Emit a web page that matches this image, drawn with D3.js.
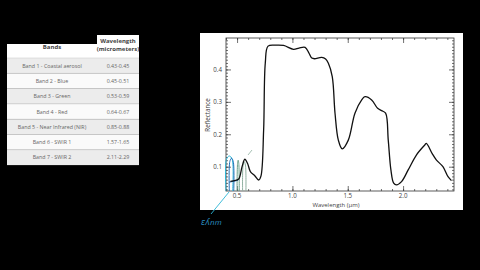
<!DOCTYPE html>
<html>
<head>
<meta charset="utf-8">
<script src="https://cdn.jsdelivr.net/npm/d3@7"></script>
<style>
  body { margin: 0; background: #000; }
  svg { display: block; font-family: "Open Sans", "DejaVu Sans", sans-serif; }
</style>
</head>
<body>
<svg id="chart" width="480" height="270"></svg>
<script>
// table data
const bandNames = ["Band 1 - Coastal aerosol", "Band 2 - Blue", "Band 3 - Green", "Band 4 - Red",
  "Band 5 - Near Infrared (NIR)", "Band 6 - SWIR 1", "Band 7 - SWIR 2"];
const bandRanges = ["0.43-0.45", "0.45-0.51", "0.53-0.59", "0.64-0.67", "0.85-0.88", "1.57-1.65", "2.11-2.29"];

// spectrum
const wavelength = [0.44, 0.485, 0.515, 0.545, 0.57, 0.595, 0.62, 0.66, 0.695, 0.715, 0.74, 0.755, 0.78, 0.85, 0.92,
  1.01, 1.06, 1.115, 1.15, 1.175, 1.2, 1.265, 1.3, 1.325, 1.36, 1.385, 1.415, 1.45, 1.505, 1.565, 1.626, 1.656, 1.716,
  1.77, 1.806, 1.842, 1.866, 1.89, 1.915, 1.94, 1.986, 2.046, 2.12, 2.196, 2.21, 2.262, 2.30, 2.36, 2.406, 2.437];
const reflectance = [0.055, 0.058, 0.062, 0.1, 0.123, 0.11, 0.085, 0.072, 0.059, 0.07, 0.213, 0.42, 0.472, 0.475, 0.474,
  0.462, 0.466, 0.468, 0.45, 0.435, 0.433, 0.437, 0.432, 0.419, 0.378, 0.265, 0.182, 0.155, 0.182, 0.265, 0.306, 0.316, 0.306,
  0.28, 0.273, 0.265, 0.182, 0.09, 0.049, 0.044, 0.054, 0.09, 0.136, 0.167, 0.172, 0.141, 0.121, 0.10, 0.069, 0.057];

// hand-drawn band marks: [start, end, top]
const bandMarks = [[0.40, 0.46, 0.133], [0.43, 0.47, 0.126], [0.50, 0.52, 0.12], [0.55, 0.58, 0.115]];
const markColors = ["#2bb6d6", "#1f6fb8", "#6aa08a", "#8fb0a0"];

const xTicks = [0.5, 1.0, 1.5, 2.0];
const yTicks = [0.1, 0.2, 0.3, 0.4];

const svg = d3.select("#chart");

// ---- table ----
const tx = 7, colSplit = 97, tRight = 139, headTop = 44, headBottom = 58, rowH = 15.3;
svg.append("rect").attr("x", tx).attr("y", headTop).attr("width", colSplit - tx).attr("height", headBottom - headTop).attr("fill", "#fff");
svg.append("rect").attr("x", colSplit).attr("y", 35).attr("width", tRight - colSplit).attr("height", headBottom - 35).attr("fill", "#fff");
svg.append("text").attr("x", (tx + colSplit) / 2).attr("y", 49).attr("text-anchor", "middle")
  .attr("font-size", 6).attr("font-weight", "bold").attr("fill", "#444").text("Bands");
svg.append("text").attr("x", (colSplit + tRight) / 2).attr("y", 43).attr("text-anchor", "middle")
  .attr("font-size", 6).attr("font-weight", "bold").attr("fill", "#444").text("Wavelength");
svg.append("text").attr("x", (colSplit + tRight) / 2).attr("y", 51).attr("text-anchor", "middle")
  .attr("font-size", 6).attr("font-weight", "bold").attr("fill", "#444").text("(micrometers)");

const rows = svg.append("g").selectAll("g").data(bandNames).join("g")
  .attr("transform", (d, i) => `translate(0, ${headBottom + i * rowH})`);
rows.append("rect").attr("x", tx).attr("width", tRight - tx).attr("height", rowH)
  .attr("fill", (d, i) => i % 2 === 0 ? "#ececec" : "#fafafa");
rows.append("line").attr("x1", tx).attr("x2", tRight).attr("y1", 0).attr("y2", 0).attr("stroke", "#d0d0d0").attr("stroke-width", 0.6);
rows.append("text").attr("x", (tx + colSplit) / 2).attr("y", rowH / 2 + 2).attr("text-anchor", "middle")
  .attr("font-size", 5.3).attr("fill", "#666").text(d => d);
rows.append("text").attr("x", (colSplit + tRight) / 2).attr("y", rowH / 2 + 2).attr("text-anchor", "middle")
  .attr("font-size", 5.3).attr("fill", "#666").text((d, i) => bandRanges[i]);

// ---- chart ----
svg.append("rect").attr("x", 200).attr("y", 33).attr("width", 263).attr("height", 177).attr("fill", "#fff");

const x = d3.scaleLinear().domain([0.4, 2.46]).range([226, 454]);
const y = d3.scaleLinear().domain([0.025, 0.497]).range([191, 38]);

const axColor = "#333";
const minorY = d3.range(0.03, 0.5, 0.01);
const minorX = d3.range(0.4, 2.46, 0.1);

svg.append("g").attr("transform", "translate(226,0)")
  .call(d3.axisRight(y).tickValues(minorY).tickSize(2).tickFormat(""))
  .call(g => g.select(".domain").remove());
svg.append("g").attr("transform", "translate(454,0)")
  .call(d3.axisLeft(y).tickValues(minorY).tickSize(2).tickFormat(""))
  .call(g => g.select(".domain").remove());
svg.append("g").attr("transform", "translate(226,0)")
  .call(d3.axisRight(y).tickValues(yTicks).tickSize(5).tickFormat(""))
  .call(g => g.select(".domain").remove());
svg.append("g").attr("transform", "translate(454,0)")
  .call(d3.axisLeft(y).tickValues(yTicks).tickSize(5).tickFormat(""))
  .call(g => g.select(".domain").remove());
svg.append("g").attr("transform", "translate(0,191)")
  .call(d3.axisTop(x).tickValues(minorX).tickSize(2).tickFormat(""))
  .call(g => g.select(".domain").remove());
svg.append("g").attr("transform", "translate(0,38)")
  .call(d3.axisBottom(x).tickValues(minorX).tickSize(2).tickFormat(""))
  .call(g => g.select(".domain").remove());
svg.append("g").attr("transform", "translate(0,191)")
  .call(d3.axisTop(x).tickValues(xTicks).tickSize(5).tickFormat(""))
  .call(g => g.select(".domain").remove());
svg.append("g").attr("transform", "translate(0,38)")
  .call(d3.axisBottom(x).tickValues(xTicks).tickSize(5).tickFormat(""))
  .call(g => g.select(".domain").remove());
svg.selectAll(".tick line").attr("stroke", axColor).attr("stroke-width", 0.7);

svg.append("rect").attr("x", 226).attr("y", 38).attr("width", 228).attr("height", 153)
  .attr("fill", "none").attr("stroke", axColor).attr("stroke-width", 0.8);

svg.append("g").selectAll("text").data(xTicks).join("text")
  .attr("x", d => x(d)).attr("y", 198).attr("text-anchor", "middle")
  .attr("font-size", 6.2).attr("fill", "#444").text(d => d.toFixed(1));
svg.append("g").selectAll("text").data(yTicks).join("text")
  .attr("x", 222).attr("y", d => y(d) + 2.3).attr("text-anchor", "end")
  .attr("font-size", 6.2).attr("fill", "#444").text(d => d.toFixed(1));

svg.append("text").attr("x", 336).attr("y", 206.5).attr("text-anchor", "middle")
  .attr("font-size", 6).attr("fill", "#444").text("Wavelength  (\u00b5m)");
svg.append("text").attr("transform", "translate(210,115) rotate(-90)").attr("text-anchor", "middle")
  .attr("font-size", 6.2).attr("fill", "#444").text("Reflectance");

// band marks
bandMarks.forEach((b, i) => {
  svg.append("path")
    .attr("d", d3.line().curve(d3.curveCatmullRom)([[x(b[0]), y(0.025)], [x(b[0]) + 0.5, y(b[2] - 0.01)],
      [(x(b[0]) + x(b[1])) / 2, y(b[2])], [x(b[1]) - 0.5, y(b[2] - 0.01)], [x(b[1]), y(0.025)]]))
    .attr("fill", "none").attr("stroke", markColors[i]).attr("stroke-width", 1);
});
svg.append("line").attr("x1", 229).attr("y1", y(0.052)).attr("x2", 238).attr("y2", y(0.058))
  .attr("stroke", "#1f6fb8").attr("stroke-width", 1);
svg.append("line").attr("x1", 248).attr("y1", 155).attr("x2", 252).attr("y2", 150)
  .attr("stroke", "#8fb0a0").attr("stroke-width", 0.8);

// spectrum
svg.append("path")
  .datum(wavelength.map((w, i) => [w, reflectance[i]]))
  .attr("d", d3.line().x(d => x(d[0])).y(d => y(d[1])).curve(d3.curveCatmullRom))
  .attr("fill", "none").attr("stroke", "#111").attr("stroke-width", 1.3);

// handwritten note
svg.append("line").attr("x1", 229).attr("y1", 192).attr("x2", 211).attr("y2", 214)
  .attr("stroke", "#2bb6d6").attr("stroke-width", 0.9);
svg.append("text").attr("x", 201).attr("y", 225).attr("font-size", 8).attr("font-style", "italic")
  .attr("fill", "#2a8fc0").text("\u025bʎnm");
</script>
</body>
</html>
